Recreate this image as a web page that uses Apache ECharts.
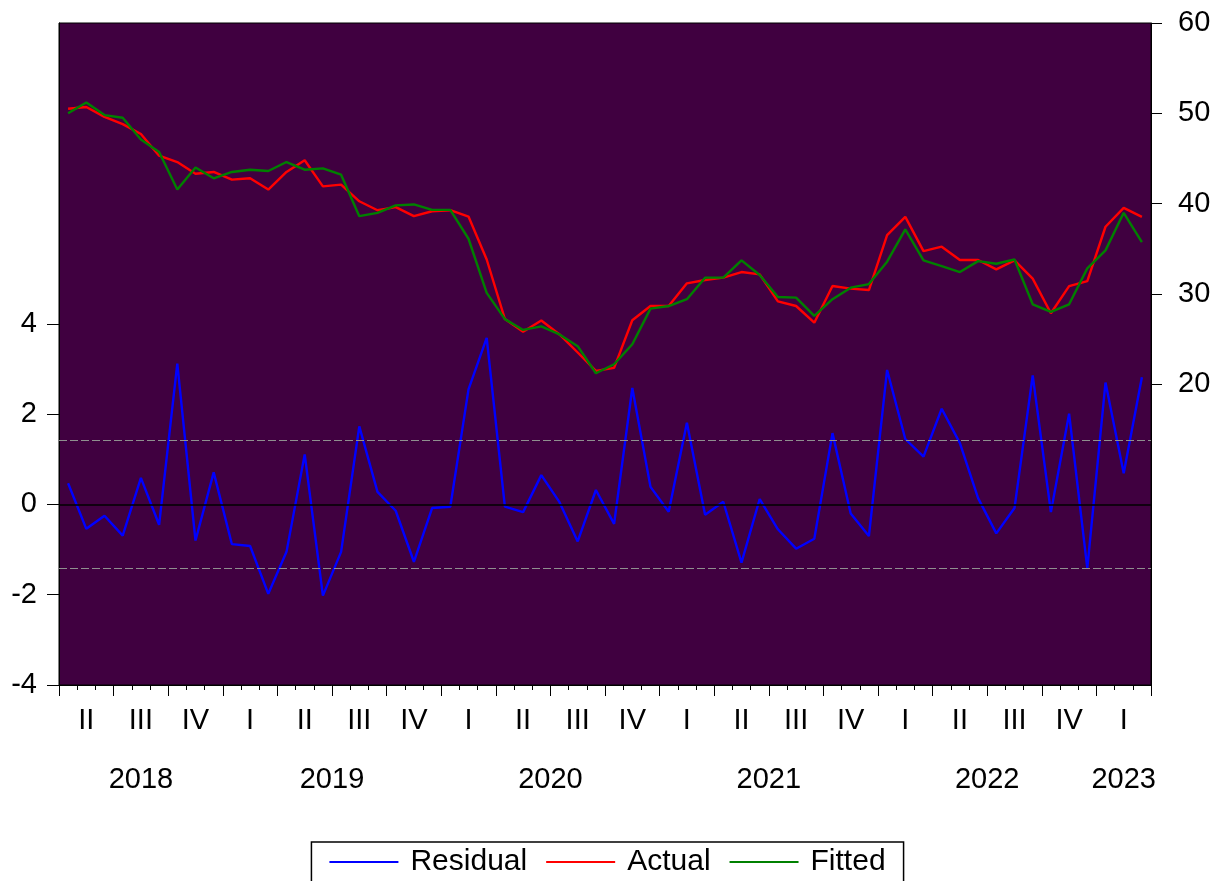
<!DOCTYPE html>
<html>
<head>
<meta charset="utf-8">
<title>Residual / Actual / Fitted</title>
<script src="https://cdn.jsdelivr.net/npm/echarts@6/dist/echarts.min.js"></script>
<style>
  html, body { margin: 0; padding: 0; background: #ffffff; }
  #chart { width: 1215px; height: 881px; }
</style>
</head>
<body>
<div id="chart"></div>
<script>
// Monthly sample 2018M04 .. 2023M03
const startYear = 2018, startMonth = 4, monthCount = 60;
const months = [];
for (let y = startYear, m = startMonth; months.length < monthCount; ) {
  months.push(y + 'M' + String(m).padStart(2, '0'));
  if (++m > 12) { m = 1; y++; }
}

const quarterNames = ['I', 'II', 'III', 'IV'];

// Actual values (right axis)
const actual = [
  50.5, 50.7, 49.6, 48.8, 47.7, 45.3, 44.6, 43.3, 43.5, 42.65,
  42.8, 41.55, 43.5, 44.8, 41.9, 42.1, 40.25, 39.26, 39.6, 38.6,
  39.15, 39.26, 38.56, 33.8, 27.2, 25.8, 27.04, 25.5, 23.5, 21.47,
  21.8, 27.07, 28.65, 28.65, 31.16, 31.53, 31.79, 32.41, 32.15, 29.17,
  28.65, 26.8, 30.86, 30.57, 30.42, 36.5, 38.53, 34.73, 35.22, 33.74,
  33.74, 32.71, 33.7, 31.68, 27.85, 30.86, 31.41, 37.43, 39.52, 38.53
];

// Fitted values (right axis)
const fitted = [
  50.0, 51.2, 49.8, 49.5, 47.1, 45.7, 41.55, 44.0, 42.8, 43.5,
  43.75, 43.6, 44.6, 43.75, 43.9, 43.2, 38.6, 38.97, 39.8, 39.9,
  39.3, 39.3, 36.1, 30.1, 27.2, 26.0, 26.4, 25.5, 24.2, 21.2,
  22.2, 24.42, 28.36, 28.65, 29.4, 31.79, 31.79, 33.7, 32.08, 29.65,
  29.58, 27.55, 29.4, 30.68, 31.08, 33.56, 37.13, 33.7, 33.07, 32.41,
  33.62, 33.33, 33.8, 28.84, 27.99, 28.84, 32.82, 34.81, 38.97, 35.72
];

// Residuals (left axis)
const residual = [
  0.47, -0.54, -0.25, -0.69, 0.59, -0.45, 3.12, -0.80, 0.71, -0.88,
  -0.92, -1.98, -1.05, 1.11, -2.02, -1.05, 1.73, 0.28, -0.14, -1.27,
  -0.08, -0.05, 2.55, 3.69, -0.05, -0.17, 0.65, 0.05, -0.82, 0.32,
  -0.43, 2.58, 0.39, -0.16, 1.81, -0.23, 0.06, -1.29, 0.12, -0.55,
  -0.98, -0.76, 1.58, -0.20, -0.70, 2.98, 1.45, 1.06, 2.12, 1.36,
  0.14, -0.64, -0.08, 2.86, -0.17, 2.01, -1.41, 2.70, 0.69, 2.82
];

// Standard error band of the residuals
const residualSE = 1.42;

const leftTicks = [-4, -2, 0, 2, 4];
const rightTicks = [20, 30, 40, 50, 60];

// Year labels sit at the centre of each year's run of months (0..60 month scale)
const yearSpans = {};
months.forEach((c, i) => {
  const y = c.slice(0, 4);
  if (!(y in yearSpans)) yearSpans[y] = [i, i];
  yearSpans[y][1] = i;
});
const yearNames = Object.keys(yearSpans);
const yearCentres = yearNames.map(y => (yearSpans[y][0] + yearSpans[y][1] + 1) / 2);
const yearAt = {};
yearNames.forEach((y, k) => { yearAt[yearCentres[k]] = y; });

const monthOf = v => +String(v).slice(5);
const FONT = "'Liberation Sans', Arial, sans-serif";
const FS = 29;
const LW = 2.4;
const plotBg = '#400040';

const chart = echarts.init(document.getElementById('chart'), null, { renderer: 'canvas' });

chart.setOption({
  animation: false,
  backgroundColor: '#ffffff',
  textStyle: { fontFamily: FONT },
  grid: {
    left: 59, right: 64, top: 23, bottom: 196,
    outerBoundsMode: 'none',
    show: true, backgroundColor: plotBg, borderColor: '#000', borderWidth: 1
  },
  legend: {
    data: ['Residual', 'Actual', 'Fitted'],
    left: 'center', top: 842,
    icon: 'rect', itemWidth: 69, itemHeight: 2, itemGap: 19,
    borderColor: '#000', borderWidth: 1.5,
    padding: [5, 18, 12, 18],
    textStyle: { fontSize: 30, color: '#000', fontFamily: FONT, padding: [0, 0, 0, 7] }
  },
  xAxis: [
    {
      // month ticks
      type: 'category', data: months, boundaryGap: true, position: 'bottom',
      axisLine: { show: true, onZero: false, lineStyle: { color: '#000', width: 1 } },
      axisTick: { show: true, interval: 0, length: 5, lineStyle: { color: '#000', width: 1 } },
      axisLabel: { show: false },
      splitLine: { show: false }
    },
    {
      // quarter ticks and quarter numerals
      type: 'category', data: months, boundaryGap: true, position: 'bottom',
      axisLine: { show: false, onZero: false },
      axisTick: {
        show: true, length: 11, lineStyle: { color: '#000', width: 1 },
        interval: (i, v) => monthOf(v) % 3 === 1
      },
      axisLabel: {
        show: true, margin: 21, fontSize: FS, color: '#000', fontFamily: FONT,
        interval: (i, v) => monthOf(v) % 3 === 2,
        formatter: v => quarterNames[Math.floor((monthOf(v) - 1) / 3)]
      },
      splitLine: { show: false }
    },
    {
      // year labels
      type: 'value', min: 0, max: monthCount, position: 'bottom',
      axisLine: { show: false, onZero: false }, axisTick: { show: false }, splitLine: { show: false },
      axisLabel: {
        show: true, margin: 80, fontSize: FS, color: '#000', fontFamily: FONT,
        customValues: yearCentres,
        formatter: v => yearAt[v] || ''
      }
    }
  ],
  yAxis: [
    {
      type: 'value', position: 'left', min: -4, max: 32 / 3,
      axisLine: { show: true, lineStyle: { color: '#000', width: 1 } },
      axisTick: { show: true, length: 12, customValues: leftTicks, lineStyle: { color: '#000', width: 1 } },
      axisLabel: { show: true, margin: 22, fontSize: FS, color: '#000', fontFamily: FONT, customValues: leftTicks },
      splitLine: { show: false }
    },
    {
      type: 'value', position: 'right', min: -40 / 3, max: 60,
      axisLine: { show: true, lineStyle: { color: '#000', width: 1 } },
      axisTick: { show: true, length: 11, customValues: rightTicks, lineStyle: { color: '#000', width: 1 } },
      axisLabel: { show: true, margin: 27, fontSize: FS, color: '#000', fontFamily: FONT, customValues: rightTicks },
      splitLine: { show: false }
    }
  ],
  series: [
    {
      name: 'Residual', type: 'line', data: residual,
      xAxisIndex: 0, yAxisIndex: 0, symbol: 'none',
      lineStyle: { color: '#0000ff', width: LW }, itemStyle: { color: '#0000ff' },
      markLine: {
        silent: true, symbol: 'none', label: { show: false }, animation: false,
        data: [
          { yAxis: 0, lineStyle: { color: '#000', type: 'solid', width: 1.5 } },
          { yAxis: residualSE, lineStyle: { color: '#8f8f8f', type: [8, 3], width: 1 } },
          { yAxis: -residualSE, lineStyle: { color: '#8f8f8f', type: [8, 3], width: 1 } }
        ]
      },
      z: 2
    },
    {
      name: 'Actual', type: 'line', data: actual,
      xAxisIndex: 0, yAxisIndex: 1, symbol: 'none',
      lineStyle: { color: '#ff0000', width: LW }, itemStyle: { color: '#ff0000' },
      z: 3
    },
    {
      name: 'Fitted', type: 'line', data: fitted,
      xAxisIndex: 0, yAxisIndex: 1, symbol: 'none',
      lineStyle: { color: '#008000', width: LW }, itemStyle: { color: '#008000' },
      z: 4
    }
  ]
});
</script>
</body>
</html>
